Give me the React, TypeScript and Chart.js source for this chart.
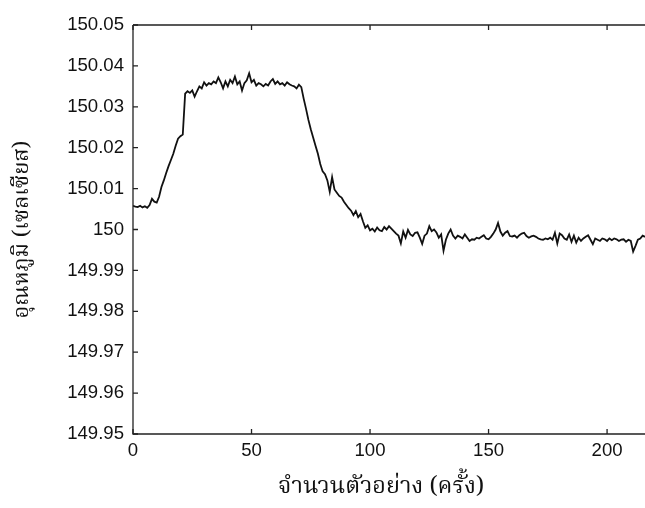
import React, { useEffect, useRef } from "react";
import { Chart, registerables } from "chart.js";

Chart.register(...registerables);

const sampleIndex: number[] = Array.from({ length: 217 }, (_, i) => i);

const temperature: number[] = [
  150.0058, 150.0056, 150.0055, 150.0058, 150.0054, 150.0057, 150.0053, 150.006,
  150.0075, 150.0068, 150.0066, 150.008, 150.0104, 150.012, 150.0138, 150.0155,
  150.017, 150.0185, 150.0205, 150.0222, 150.0228, 150.0232,
  150.0332, 150.0338, 150.0334, 150.034, 150.0325, 150.0338, 150.035, 150.0345,
  150.036, 150.0352, 150.0358, 150.0355, 150.0362, 150.0358, 150.0372, 150.036,
  150.0345, 150.0362, 150.035, 150.0366, 150.0358, 150.0374, 150.0355, 150.0362,
  150.034, 150.0358, 150.0365, 150.0382, 150.036, 150.0366, 150.0352, 150.0358,
  150.0355, 150.035, 150.0356, 150.0352, 150.0362, 150.0368, 150.0356, 150.0362,
  150.0355, 150.0358, 150.0352, 150.036, 150.0355, 150.0352, 150.035, 150.0345,
  150.0354, 150.0348,
  150.032, 150.0295, 150.0268, 150.0245, 150.0225, 150.0205, 150.0185, 150.016,
  150.0142, 150.0135, 150.012, 150.0092, 150.0128, 150.0098, 150.009, 150.0082,
  150.0078, 150.0068, 150.006, 150.0052, 150.0046, 150.0035, 150.0045, 150.003,
  150.0038, 150.002, 150.0004, 150.001, 149.9998, 150.0002, 149.9995, 150.0005,
  149.9998, 149.9996, 150.0006, 150.0, 150.0008, 150.0002, 149.9996, 149.999,
  149.9985, 149.9966, 149.9995, 149.998, 149.9999, 149.9988, 149.9984, 149.9992,
  149.9993, 149.998, 149.9965, 149.9985, 149.999, 150.0008, 149.9996, 150.0,
  149.9993, 149.998, 149.9988, 149.9948, 149.9975, 149.999, 150.0, 149.9985,
  149.9978, 149.9985, 149.9982, 149.9978, 149.9988, 149.998, 149.9972, 149.9976,
  149.9975, 149.998, 149.9978, 149.9982, 149.9986, 149.9978, 149.9976, 149.9982,
  149.999, 150.0, 150.0016, 149.9995, 149.9985, 149.9992, 149.9996, 149.9984,
  149.9983, 149.9985, 149.998, 149.9986, 149.999, 149.9992, 149.9984, 149.998,
  149.9983, 149.9985, 149.9982, 149.9978, 149.9976, 149.9975, 149.9978, 149.9976,
  149.998, 149.9975, 149.9992, 149.9966, 149.999, 149.9986, 149.9978, 149.9975,
  149.9988, 149.997, 149.9985, 149.9968, 149.998, 149.9972, 149.9978, 149.9982,
  149.9986, 149.9975, 149.9964, 149.9978, 149.9975, 149.9972, 149.9978, 149.9976,
  149.9972, 149.9978, 149.9974, 149.9978, 149.9976, 149.9972, 149.9975, 149.9976,
  149.997, 149.9975, 149.9972, 149.9946, 149.996, 149.9975, 149.9978, 149.9985,
  149.9982,
];

const xTicks: number[] = [0, 50, 100, 150, 200];
const yTicks: number[] = [149.95, 149.96, 149.97, 149.98, 149.99, 150, 150.01, 150.02, 150.03, 150.04, 150.05];

const xTitle = "จำนวนตัวอย่าง (ครั้ง)";
const yTitle = "อุณหภูมิ (เซลเซียส)";

const labelFont = "'Liberation Sans', Arial, sans-serif";
const thaiFont = "'Noto Serif Thai', 'Noto Sans Thai', 'Tlwg Typo', 'Loma', 'DejaVu Sans', serif";

const framePlugin = {
  id: "framePlugin",
  afterDraw(chart: any) {
    const { ctx, chartArea, scales } = chart;
    const { left, right, top, bottom } = chartArea;
    ctx.save();
    ctx.strokeStyle = "#222";
    ctx.lineWidth = 1.3;
    ctx.beginPath();
    ctx.moveTo(left, top);
    ctx.lineTo(right + 5, top);
    ctx.moveTo(left, top);
    ctx.lineTo(left, bottom);
    ctx.lineTo(right + 5, bottom);
    ctx.stroke();
    const tl = 5;
    ctx.beginPath();
    for (const v of xTicks) {
      const px = scales.x.getPixelForValue(v);
      ctx.moveTo(px, bottom);
      ctx.lineTo(px, bottom - tl);
      ctx.moveTo(px, top);
      ctx.lineTo(px, top + tl);
    }
    for (const v of yTicks) {
      const py = scales.y.getPixelForValue(v);
      ctx.moveTo(left, py);
      ctx.lineTo(left + tl, py);
    }
    ctx.stroke();

    ctx.fillStyle = "#111";
    ctx.textAlign = "center";
    ctx.textBaseline = "middle";
    ctx.font = `23.5px ${thaiFont}`;
    ctx.fillText(xTitle, 381, 489);
    ctx.font = `22px ${thaiFont}`;
    ctx.save();
    ctx.translate(24, (top + bottom) / 2);
    ctx.rotate(-Math.PI / 2);
    ctx.fillText(yTitle, 0, 0);
    ctx.restore();
    ctx.restore();
  },
};

export default function App() {
  const canvasRef = useRef<HTMLCanvasElement | null>(null);

  useEffect(() => {
    const canvas = canvasRef.current;
    if (!canvas) return;
    const chart = new Chart(canvas, {
      type: "line",
      data: {
        labels: sampleIndex,
        datasets: [
          {
            data: sampleIndex.map((x, i) => ({ x, y: temperature[i] })),
            borderColor: "#111",
            borderWidth: 1.8,
            pointRadius: 0,
            tension: 0,
            fill: false,
          },
        ],
      },
      options: {
        animation: false,
        responsive: false,
        devicePixelRatio: 1,
        layout: { padding: { top: 25, right: 0, bottom: 0, left: 0 } },
        plugins: { legend: { display: false }, tooltip: { enabled: false }, title: { display: false } },
        scales: {
          x: {
            type: "linear",
            min: 0,
            max: 216,
            grid: { display: false, drawTicks: false },
            border: { display: false },
            afterBuildTicks: (scale: any) => {
              scale.ticks = xTicks.map((v) => ({ value: v }));
            },
            afterFit: (scale: any) => {
              scale.height = 74;
            },
            ticks: {
              padding: 6,
              maxRotation: 0,
              autoSkip: false,
              color: "#111",
              font: { family: labelFont, size: 18.6 },
              callback: (v: any) => String(v),
            },
          },
          y: {
            type: "linear",
            min: 149.95,
            max: 150.05,
            grid: { display: false, drawTicks: false },
            border: { display: false },
            afterBuildTicks: (scale: any) => {
              scale.ticks = yTicks.map((v) => ({ value: v }));
            },
            afterFit: (scale: any) => {
              scale.width = 133;
            },
            ticks: {
              padding: 9,
              autoSkip: false,
              color: "#111",
              font: { family: labelFont, size: 18.6 },
              callback: (v: any) => String(Number(Number(v).toFixed(2))),
            },
          },
        },
      },
      plugins: [framePlugin],
    });
    return () => chart.destroy();
  }, []);

  return (
    <div style={{ position: "fixed", left: 0, top: 0, width: 645, height: 508, background: "#fff" }}>
      <canvas ref={canvasRef} width={645} height={508} style={{ display: "block" }} />
    </div>
  );
}
